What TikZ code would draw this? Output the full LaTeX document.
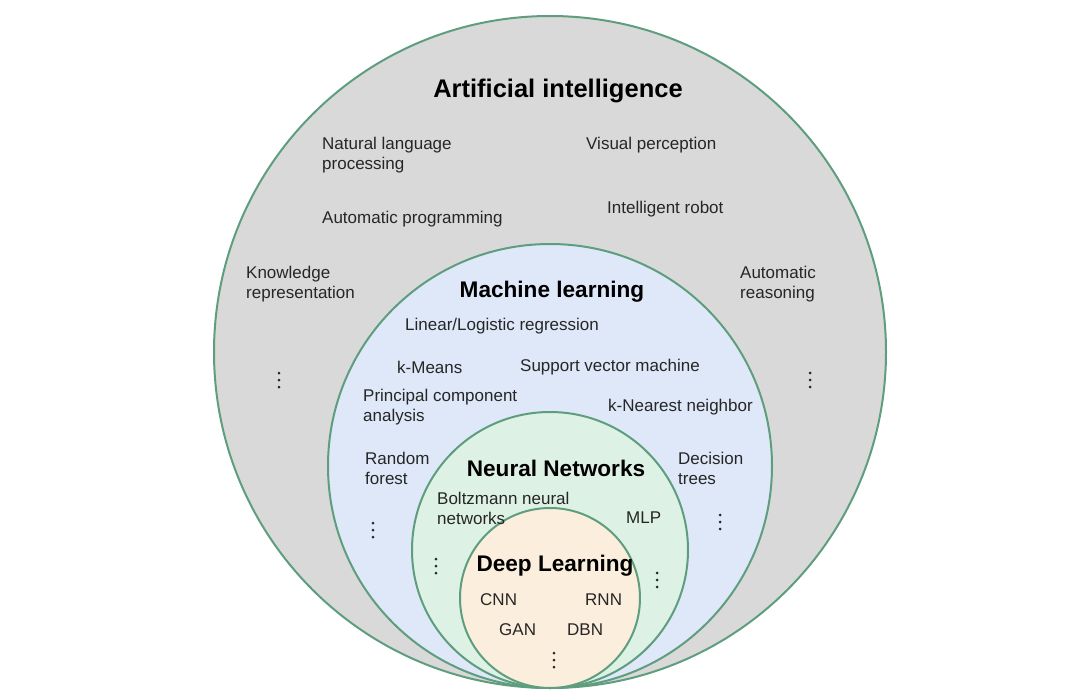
\documentclass[tikz,border=0pt]{standalone}
\usepackage{fontspec}
\setmainfont{Liberation Sans}
\usetikzlibrary{positioning}

\definecolor{ringgreen}{HTML}{5E9E7E}
\definecolor{aigray}{HTML}{D9D9D9}
\definecolor{mlblue}{HTML}{DEE8F8}
\definecolor{nngreen}{HTML}{DDF1E4}
\definecolor{dlcream}{HTML}{FBEEDD}
\definecolor{txtgray}{HTML}{262626}

\tikzset{
  ring/.style={circle, draw=ringgreen, line width=2pt, inner sep=0pt},
  title/.style={text=black, yshift=-2.5pt, font=\fontsize{22.6}{26}\selectfont\bfseries},
  txt/.style={anchor=west, align=left, inner sep=0pt, yshift=-2pt, text=txtgray, font=\fontsize{17}{20}\selectfont},
  more/.style={fill=txtgray}
}

\begin{document}
\begin{tikzpicture}[x=1pt, y=-1pt]
   \useasboundingbox (0,0) rectangle (1080,696);

   % nested rings, all touching at the bottom
   \node[ring, fill=aigray, minimum size=672pt] (ai) at (550,352) {};
   \node[ring, fill=mlblue, minimum size=444pt] (ml) at (550,466) {};
   \node[ring, fill=nngreen, minimum size=276pt] (nn) at (550,550) {};
   \node[ring, fill=dlcream, minimum size=180pt] (dl) at (550,598) {};

   % artificial intelligence
   \node[title, font=\fontsize{25.5}{30}\selectfont\bfseries] (ai_t) at (558,88) {Artificial intelligence};
   \node[txt] (nlp) at (322,153) {Natural language\\processing};
   \node[txt] (vis) at (586,143) {Visual perception};
   \node[txt] (prog) at (322,217) {Automatic programming};
   \node[txt] (robot) at (607,207) {Intelligent robot};
   \node[txt] (know) at (246,282) {Knowledge\\representation};
   \node[txt] (reason) at (740,282) {Automatic\\reasoning};

   % machine learning
   \node[title] (ml_t) at (552,289) {Machine learning};
   \node[txt] (lin) at (405,324) {Linear/Logistic regression};
   \node[txt] (kmeans) at (397,365) {k-Means};
   \node[txt] (svm) at (520,365) {Support vector machine};
   \node[txt] (pca) at (363,405) {Principal component\\analysis};
   \node[txt] (knn) at (608,405) {k-Nearest neighbor};
   \node[txt] (rf) at (365,466) {Random\\forest};
   \node[txt] (dt) at (678,466) {Decision\\trees};

   % neural networks
   \node[title] (nn_t) at (556,466) {Neural Networks};
   \node[txt] (bm) at (437,506) {Boltzmann neural\\networks};
   \node[txt] (mlp) at (626,516) {MLP};

   % deep learning
   \node[title] (dl_t) at (555,563) {Deep Learning};
   \node[txt] (cnn) at (480,598) {CNN};
   \node[txt] (rnn) at (585,598) {RNN};
   \node[txt] (gan) at (499,628) {GAN};
   \node[txt] (dbn) at (567,628) {DBN};

   % vertical ellipses
   \foreach \x/\y in {279/380, 810/380, 373/530, 720/522, 436/566, 657/580, 554/660}
      \foreach \k in {-1,0,1}
         \fill[more] (\x,\y+7*\k) circle (1.5pt);
\end{tikzpicture}
\end{document}
